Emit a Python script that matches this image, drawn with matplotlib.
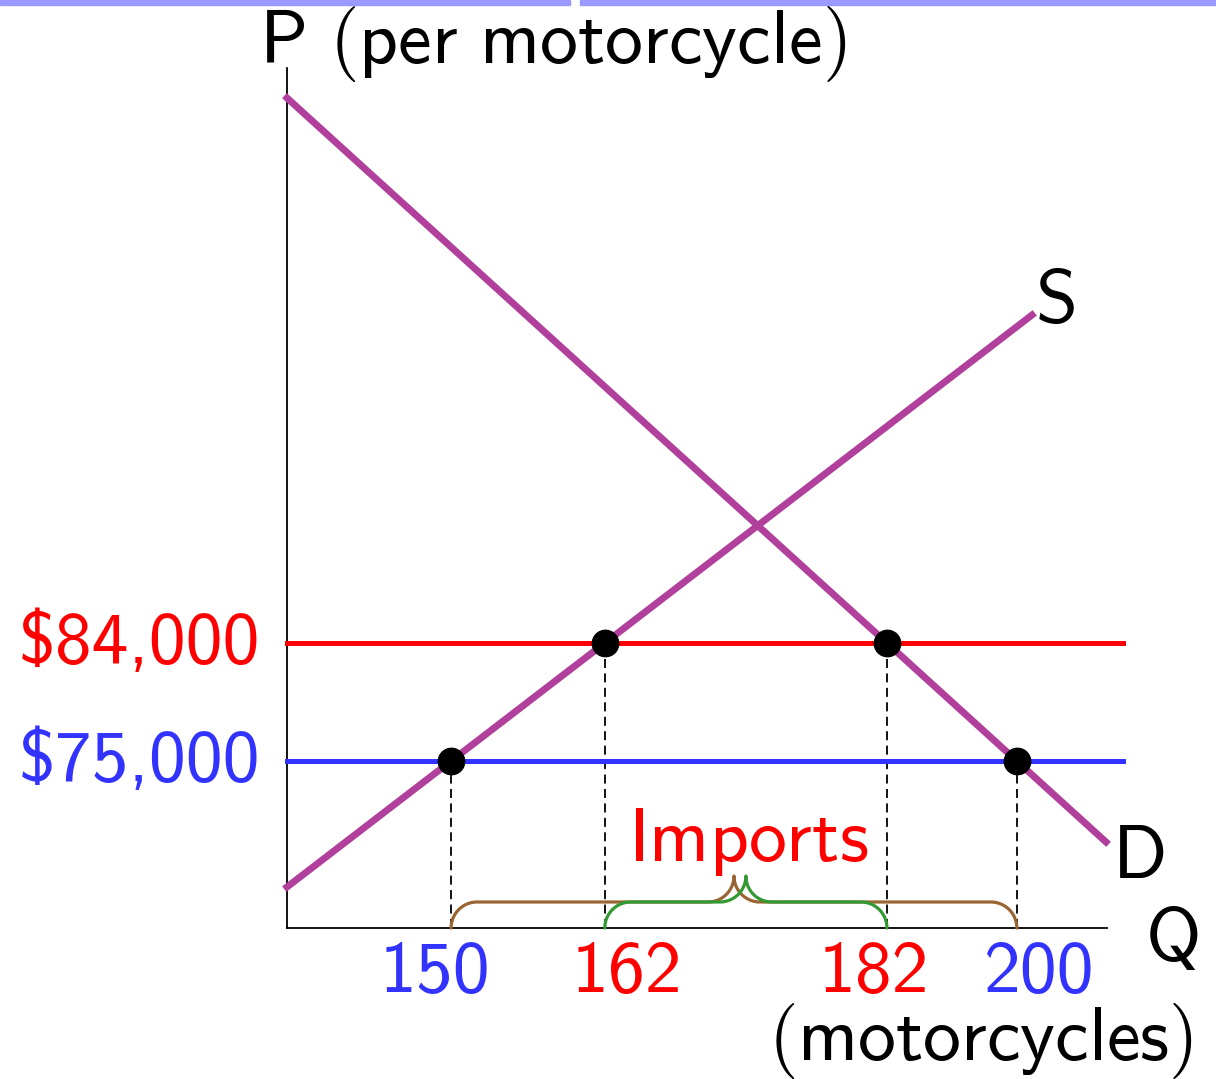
import os
import numpy as np
import matplotlib
matplotlib.use("Agg")
import matplotlib.pyplot as plt
from matplotlib.patches import Rectangle
from matplotlib.font_manager import FontProperties

plt.rcParams['mathtext.fontset'] = 'cm'

# schematic diagram units (1 unit ~ 100 px), origin at the axes corner
demand_pts = [(0.0, 8.30), (8.19, 0.86)]
supply_pts = [(0.0, 0.41), (7.45, 6.13)]
price_levels = [2.85, 1.67]            # world price + tariff, world price
price_labels = ['$84,000', '$75,000']
price_colors = ['#ff0000', '#3333ff']
quantity_labels = ['150', '162', '182', '200']
quantity_colors = ['#3333ff', '#ff0000', '#ff0000', '#3333ff']
quantity_label_x = [1.48, 3.40, 5.87, 7.52]

PURPLE = '#b0409b'
FS = 54.5
cmss = FontProperties(fname=os.path.join(matplotlib.get_data_path(), 'fonts', 'ttf', 'cmss10.ttf'),
                      size=53)


def sf(s):
    return r'$\mathsf{' + s.replace(' ', r'\ ') + '}$'


def line_at(pts, v):
    (x0, y0), (x1, y1) = pts
    return x0 + (v - y0) * (x1 - x0) / (y1 - y0)


def brace(ax, xa, xb, color, r=0.26):
    c = (xa + xb) / 2
    t = np.linspace(np.pi, np.pi / 2, 30)
    left_end = np.c_[xa + r + r * np.cos(t), r * np.sin(t)]
    t2 = np.linspace(-np.pi / 2, 0, 30)
    mid = np.c_[c - r + r * np.cos(t2), 2 * r + r * np.sin(t2)]
    half = np.vstack([left_end, mid])
    other = half[::-1].copy()
    other[:, 0] = 2 * c - other[:, 0]
    pts = np.vstack([half, other])
    ax.plot(pts[:, 0], pts[:, 1], color=color, lw=2.3, solid_capstyle='round', zorder=3)


fig = plt.figure(figsize=(12.16, 10.79), dpi=100)
ax = fig.add_axes([0, 0, 1, 1])
ax.set_xlim(-2.87, 9.29)
ax.set_ylim(-1.51, 9.28)
ax.axis('off')

# top strip
fig.patches.append(Rectangle((0, 1 - 5 / 1079), 570 / 1216, 5 / 1079,
                             transform=fig.transFigure, color='#9999ff'))
fig.patches.append(Rectangle((580 / 1216, 1 - 5 / 1079), 636 / 1216, 5 / 1079,
                             transform=fig.transFigure, color='#9999ff'))

# axes
ax.plot([0, 0], [0, 8.6], color='black', lw=1.3)
ax.plot([0, 8.2], [0, 0], color='black', lw=1.3)

# price lines
for p, col in zip(price_levels, price_colors):
    ax.plot([0, 8.36], [p, p], color=col, lw=3.6, zorder=2)

# supply / demand
for pts in (demand_pts, supply_pts):
    xs, ys = zip(*pts)
    ax.plot(xs, ys, color=PURPLE, lw=5, zorder=4)

# intersections
qs = []
for p in sorted(price_levels):
    qs.append((line_at(supply_pts, p), p))
    qs.append((line_at(demand_pts, p), p))
qs.sort()
for q, p in qs:
    ax.plot([q, q], [0, p], color='black', lw=1.3, dashes=(5, 3), zorder=1)
    ax.plot(q, p, 'o', color='black', ms=19, zorder=5)

q_sup = [line_at(supply_pts, p) for p in price_levels]
q_dem = [line_at(demand_pts, p) for p in price_levels]
brace(ax, q_sup[1], q_dem[1], '#996633')
brace(ax, q_sup[0], q_dem[0], '#339933')

# text
ax.text(2.66, 8.65, sf('P (per motorcycle)'), fontsize=FS, ha='center', va='baseline')
for p, lab, col in zip(price_levels, price_labels, price_colors):
    ax.text(-0.27, p - 0.2, lab, fontproperties=cmss, color=col, ha='right', va='baseline')
for x, lab, col in zip(quantity_label_x, quantity_labels, quantity_colors):
    ax.text(x, -0.64, lab, fontproperties=cmss, color=col, ha='center', va='baseline')
ax.text(4.61, 0.67, sf('Imports'), fontsize=FS, color='#ff0000', ha='center', va='baseline')
ax.text(7.48, 6.06, sf('S'), fontsize=FS, ha='left', va='baseline')
ax.text(8.25, 0.50, sf('D'), fontsize=FS, ha='left', va='baseline')
ax.text(8.85, -0.32, sf('Q'), fontsize=FS, ha='center', va='baseline')
ax.text(9.06, -1.32, sf('(motorcycles)'), fontsize=FS, ha='right', va='baseline')

fig.savefig('out.png', dpi=100)
